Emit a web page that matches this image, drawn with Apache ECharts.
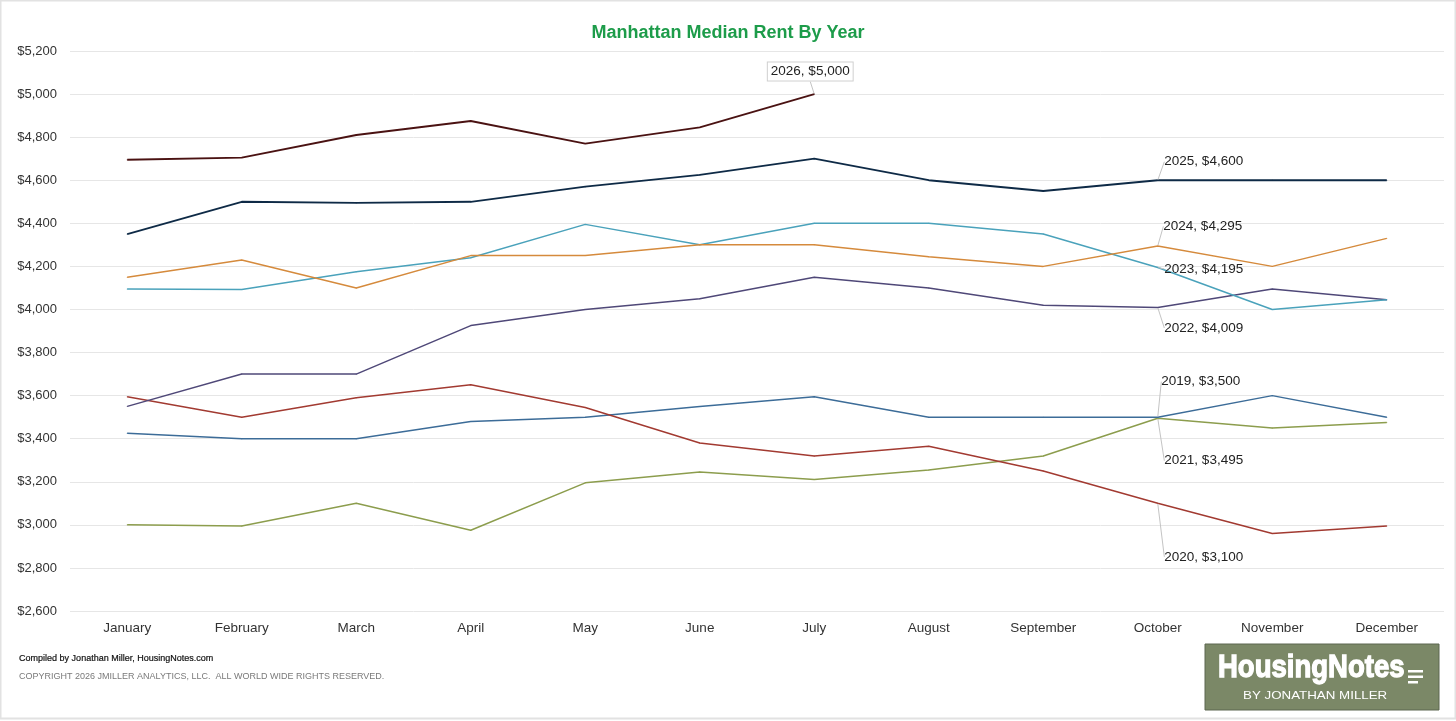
<!DOCTYPE html>
<html>
<head>
<meta charset="utf-8">
<script src="https://cdn.jsdelivr.net/npm/echarts@6/dist/echarts.min.js"></script>
<style>
  html, body { margin: 0; padding: 0; background: #fff; }
  #main { width: 1456px; height: 721px; }
</style>
</head>
<body>
<div id="main"></div>
<script>
var myChart = echarts.init(document.getElementById('main'))

var months = ['January', 'February', 'March', 'April', 'May', 'June', 'July',
  'August', 'September', 'October', 'November', 'December']

// median rent by month, one array per year
var years = ['2026', '2025', '2024', '2023', '2022', '2020', '2019', '2021']
var rent2026 = [4695, 4705, 4810, 4875, 4770, 4845, 5000]
var rent2025 = [4350, 4500, 4495, 4500, 4570, 4625, 4700, 4600, 4550, 4600, 4600, 4600]
var rent2024 = [4150, 4230, 4100, 4250, 4250, 4300, 4300, 4245, 4200, 4295, 4200, 4330]
var rent2023 = [4095, 4093, 4175, 4240, 4395, 4300, 4400, 4400, 4350, 4195, 4000, 4045]
var rent2022 = [3550, 3700, 3700, 3925, 4000, 4050, 4150, 4100, 4020, 4009, 4095, 4045]
var rent2020 = [3595, 3500, 3590, 3650, 3545, 3380, 3320, 3365, 3250, 3100, 2960, 2995]
var rent2019 = [3425, 3400, 3400, 3480, 3500, 3550, 3595, 3500, 3500, 3500, 3600, 3500]
var rent2021 = [3000, 2995, 3100, 2975, 3195, 3245, 3210, 3255, 3320, 3495, 3450, 3475]

var seriesData = [rent2026, rent2025, rent2024, rent2023, rent2022, rent2020, rent2019, rent2021]
var colors = ['#4a1212', '#0e2a46', '#d58a3c', '#4aa2bb', '#4f4878', '#a23a31', '#3c6c98', '#8c9d4d']
var widths = [1.8, 1.8, 1.5, 1.5, 1.5, 1.5, 1.5, 1.5]
// which month carries the callout label, and how far it is moved
var labelIndex = [6, 9, 9, 9, 9, 9, 9, 9]
var labelShift = [[-4, -8], [46, -6], [45, -7], [46, 14], [46, 33], [46, 66], [43, -23], [46, 55]]

function money(v) {
  return '$' + v.toLocaleString('en-US')
}

var series = []
for (let i = 0; i < years.length; i++) {
  var items = []
  for (let j = 0; j < seriesData[i].length; j++) {
    var item = { value: seriesData[i][j] }
    if (j === labelIndex[i]) {
      item.label = {
        show: true,
        position: 'top',
        distance: 5,
        formatter: years[i] + ', ' + money(seriesData[i][j]),
        color: '#222',
        fontSize: 13.5,
        fontFamily: 'Liberation Sans',
      }
      if (i === 0) {
        item.label.backgroundColor = '#fff'
        item.label.borderColor = '#d0d0d0'
        item.label.borderWidth = 1
        item.label.padding = [2, 3]
      }
    }
    items.push(item)
  }
  let shift = labelShift[i]
  series.push({
    name: years[i],
    type: 'line',
    data: items,
    symbol: 'circle',
    symbolSize: 1,
    showSymbol: true,
    lineStyle: { color: colors[i], width: widths[i] },
    itemStyle: { color: colors[i] },
    label: { show: false },
    labelLine: { show: true, lineStyle: { color: '#c4c4c4', width: 1 } },
    labelLayout: { dx: shift[0], dy: shift[1] },
    z: 10 - i,
    animation: false,
  })
}

var option = {
  animation: false,
  backgroundColor: '#fff',
  title: {
    text: 'Manhattan Median Rent By Year',
    left: 'center',
    top: 19,
    textStyle: {
      color: '#1d9c4a',
      fontSize: 18,
      fontWeight: 'bold',
      fontFamily: 'Liberation Sans',
    },
  },
  grid: { left: 70, right: 12, top: 51, bottom: 110 },
  xAxis: {
    type: 'category',
    data: months,
    boundaryGap: true,
    axisLine: { show: false },
    axisTick: { show: false },
    axisLabel: { color: '#333', fontSize: 13.5, margin: 10, fontFamily: 'Liberation Sans' },
  },
  yAxis: {
    type: 'value',
    min: 2600,
    max: 5200,
    interval: 200,
    axisLine: { show: false },
    axisTick: { show: false },
    splitLine: { lineStyle: { color: '#e6e6e6', width: 1 } },
    axisLabel: {
      color: '#333',
      fontSize: 13,
      margin: 13,
      fontFamily: 'Liberation Sans',
      formatter: function (v) { return money(v) },
    },
  },
  series: series,
  graphic: [
    {
      type: 'rect',
      shape: { x: 0.5, y: 0.5, width: 1455, height: 718 },
      style: { fill: 'none', stroke: '#e2e2e2', lineWidth: 2 },
      silent: true,
    },
    {
      type: 'text',
      left: 19,
      top: 654,
      style: {
        text: 'Compiled by Jonathan Miller, HousingNotes.com',
        fill: '#111',
        font: '9px "Liberation Sans"',
        stroke: '#111',
        lineWidth: 0.2,
      },
    },
    {
      type: 'text',
      left: 19,
      top: 672,
      style: {
        text: 'COPYRIGHT 2026 JMILLER ANALYTICS, LLC.  ALL WORLD WIDE RIGHTS RESERVED.',
        fill: '#7a7a7a',
        font: '9px "Liberation Sans"',
      },
    },
    {
      type: 'group',
      x: 1205,
      y: 644,
      children: [
        {
          type: 'rect',
          shape: { x: 0, y: 0, width: 234, height: 66 },
          style: { fill: '#7b8867', stroke: '#5d6650', lineWidth: 1 },
        },
        {
          type: 'text',
          x: 13,
          y: 8,
          scaleX: 0.86,
          style: {
            text: 'HousingNotes',
            fill: '#fff',
            stroke: '#fff',
            lineWidth: 1.3,
            font: 'bold 32px "Liberation Sans"',
          },
        },
        {
          type: 'rect',
          shape: { x: 203, y: 26, width: 15, height: 2.5 },
          style: { fill: '#fff' },
        },
        {
          type: 'rect',
          shape: { x: 203, y: 31.5, width: 15, height: 2.5 },
          style: { fill: '#fff' },
        },
        {
          type: 'rect',
          shape: { x: 203, y: 37, width: 10, height: 2.5 },
          style: { fill: '#fff' },
        },
        {
          type: 'text',
          x: 38,
          y: 47,
          scaleX: 1.27,
          style: {
            text: 'BY JONATHAN MILLER',
            fill: '#fff',
            font: '10.5px "Liberation Sans"',
          },
        },
      ],
    },
  ],
}

myChart.setOption(option)
</script>
</body>
</html>
